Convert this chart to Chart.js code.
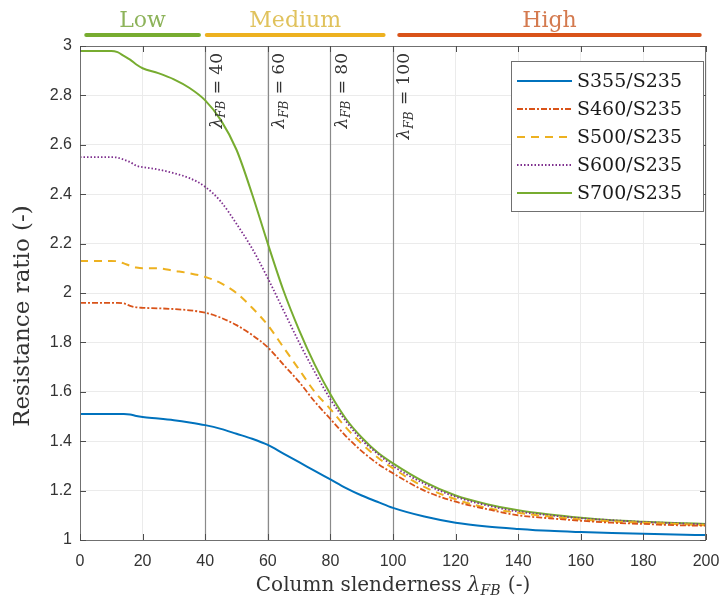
<!DOCTYPE html>
<html>
<head>
<meta charset="utf-8">
<script src="https://cdn.jsdelivr.net/npm/chart.js@4.4.1/dist/chart.umd.min.js"></script>
<style>
  html, body { margin: 0; padding: 0; background: #fff; }
  #wrap { width: 722px; height: 602px; position: relative; }
</style>
</head>
<body>
<div id="wrap"><canvas id="c" width="722" height="602"></canvas></div>
<script>
// ---- data ----
const xValues = [0,5,10,12,14,16,18,20,25,30,35,40,45,50,55,60,65,70,75,80,85,90,95,100,110,120,130,140,150,160,170,180,190,200];
const s355 = [1.51,1.51,1.51,1.51,1.51,1.508,1.502,1.498,1.492,1.485,1.476,1.465,1.45,1.43,1.41,1.385,1.35,1.315,1.28,1.245,1.21,1.18,1.155,1.13,1.095,1.07,1.055,1.045,1.037,1.032,1.028,1.025,1.022,1.02];
const s460 = [1.96,1.96,1.96,1.96,1.958,1.948,1.942,1.94,1.938,1.935,1.93,1.92,1.90,1.87,1.83,1.78,1.71,1.64,1.56,1.49,1.42,1.36,1.31,1.27,1.20,1.155,1.125,1.10,1.088,1.078,1.07,1.065,1.06,1.058];
const s500 = [2.13,2.13,2.13,2.128,2.12,2.11,2.103,2.10,2.10,2.09,2.08,2.065,2.04,2.00,1.94,1.87,1.78,1.69,1.60,1.53,1.455,1.39,1.335,1.29,1.215,1.165,1.13,1.11,1.095,1.083,1.075,1.07,1.065,1.06];
const s600 = [2.55,2.55,2.55,2.548,2.54,2.53,2.515,2.51,2.50,2.485,2.465,2.43,2.37,2.28,2.18,2.06,1.93,1.80,1.68,1.57,1.48,1.405,1.35,1.30,1.228,1.175,1.14,1.115,1.10,1.088,1.08,1.073,1.068,1.063];
const s700 = [2.98,2.98,2.98,2.975,2.96,2.945,2.925,2.91,2.89,2.865,2.83,2.78,2.70,2.58,2.40,2.20,2.01,1.85,1.71,1.59,1.49,1.415,1.355,1.31,1.235,1.18,1.145,1.12,1.103,1.09,1.08,1.074,1.069,1.065];
const seriesNames = ['S355/S235','S460/S235','S500/S235','S600/S235','S700/S235'];
const xTickLabels = ['0','20','40','60','80','100','120','140','160','180','200'];
const yTickLabels = ['1','1.2','1.4','1.6','1.8','2','2.2','2.4','2.6','2.8','3'];
const refLines = [40, 60, 80, 100];
const bandLabels = ['Low','Medium','High'];
const bandStart = [2, 40.5, 102];
const bandEnd = [38, 97, 198];

// ---- styles ----
const colors = ['#0072BD','#D95319','#EDB120','#7E2F8E','#77AC30'];
const dashes = [[], [6,2,2,2], [8,6], [1.5,2], []];
const widths = [2, 1.8, 2, 1.8, 2];
const bandColors = ['#77AC30','#EDB120','#D95319'];
const bandTextColors = ['#8db35a','#e0c25c','#d47a4f'];
const serif = '"DejaVu Serif", "Liberation Serif", serif';
const sans = '"Liberation Sans", Arial, sans-serif';
const textCol = '#333333';

const seriesValues = [s355, s460, s500, s600, s700];
const datasets = seriesValues.map((vals, i) => ({
  label: seriesNames[i],
  data: xValues.map((x, j) => ({ x: x, y: vals[j] })),
  borderColor: colors[i],
  backgroundColor: colors[i],
  borderWidth: widths[i],
  borderDash: dashes[i],
  pointRadius: 0,
  cubicInterpolationMode: 'monotone',
  fill: false
}));

function lambdaWidth(ctx, size, suffix) {
  ctx.font = 'italic ' + size + 'px ' + serif;
  const wl = ctx.measureText('λ').width;
  ctx.font = 'italic ' + Math.round(size * 0.7) + 'px ' + serif;
  const ws = ctx.measureText('FB').width;
  ctx.font = size + 'px ' + serif;
  const wt = ctx.measureText(suffix).width;
  return { wl, ws, wt, total: wl + ws + wt + 1 };
}
function drawLambda(ctx, x, y, size, suffix, align) {
  const m = lambdaWidth(ctx, size, suffix);
  let sx = align === 'center' ? x - m.total / 2 : (align === 'right' ? x - m.total : x);
  ctx.textAlign = 'left';
  ctx.font = 'italic ' + size + 'px ' + serif;
  ctx.fillText('λ', sx, y);
  sx += m.wl;
  ctx.font = 'italic ' + Math.round(size * 0.7) + 'px ' + serif;
  ctx.fillText('FB', sx, y + size * 0.28);
  sx += m.ws + 1;
  ctx.font = size + 'px ' + serif;
  ctx.fillText(suffix, sx, y);
  return m.total;
}

const overlay = {
  id: 'overlay',
  beforeDatasetsDraw(chart) {
    const { ctx, chartArea: a, scales: { x } } = chart;
    ctx.save();
    ctx.strokeStyle = '#8a8a8a';
    ctx.lineWidth = 1.2;
    refLines.forEach(v => {
      const px = Math.round(x.getPixelForValue(v)) + 0.5;
      ctx.beginPath();
      ctx.moveTo(px, a.top);
      ctx.lineTo(px, a.bottom);
      ctx.stroke();
    });
    ctx.restore();
  },
  afterDraw(chart) {
    const { ctx, chartArea: a, scales: { x, y } } = chart;
    ctx.save();
    // box
    ctx.strokeStyle = '#707070';
    ctx.lineWidth = 1;
    ctx.strokeRect(a.left + 0.5, a.top + 0.5, a.right - a.left - 1, a.bottom - a.top);
    // inner ticks
    ctx.strokeStyle = '#4d4d4d';
    ctx.beginPath();
    x.ticks.forEach(t => {
      const px = Math.round(x.getPixelForValue(t.value)) + 0.5;
      ctx.moveTo(px, a.bottom); ctx.lineTo(px, a.bottom - 6);
      ctx.moveTo(px, a.top); ctx.lineTo(px, a.top + 6);
    });
    y.ticks.forEach(t => {
      const py = Math.round(y.getPixelForValue(t.value)) + 0.5;
      ctx.moveTo(a.left, py); ctx.lineTo(a.left + 6, py);
      ctx.moveTo(a.right, py); ctx.lineTo(a.right - 6, py);
    });
    ctx.stroke();

    // reference line labels (rotated)
    ctx.fillStyle = textCol;
    ctx.textBaseline = 'middle';
    refLines.forEach(v => {
      const px = x.getPixelForValue(v);
      ctx.save();
      ctx.translate(px + 14, a.top + 7);
      ctx.rotate(-Math.PI / 2);
      drawLambda(ctx, 0, -2, 17, ' = ' + v, 'right');
      ctx.restore();
    });

    // bands above plot
    bandLabels.forEach((lab, i) => {
      const x0 = x.getPixelForValue(bandStart[i]);
      const x1 = x.getPixelForValue(bandEnd[i]);
      ctx.strokeStyle = bandColors[i];
      ctx.lineWidth = 4;
      ctx.lineCap = 'round';
      ctx.beginPath();
      ctx.moveTo(x0, 35); ctx.lineTo(x1, 35);
      ctx.stroke();
      ctx.fillStyle = bandTextColors[i];
      ctx.font = '22px ' + serif;
      ctx.textAlign = 'center';
      ctx.textBaseline = 'alphabetic';
      ctx.fillText(lab, (x0 + x1) / 2, 27);
    });

    // legend
    const lx = 511, ly = 61, lw = 192, lh = 150;
    ctx.fillStyle = '#ffffff';
    ctx.fillRect(lx, ly, lw, lh);
    ctx.strokeStyle = '#707070';
    ctx.lineWidth = 1;
    ctx.lineCap = 'butt';
    ctx.strokeRect(lx + 0.5, ly + 0.5, lw, lh);
    chart.data.datasets.forEach((ds, i) => {
      const ry = 81 + i * 28;
      ctx.strokeStyle = ds.borderColor;
      ctx.lineWidth = ds.borderWidth;
      ctx.setLineDash(ds.borderDash);
      ctx.beginPath();
      ctx.moveTo(517, ry); ctx.lineTo(572, ry);
      ctx.stroke();
      ctx.setLineDash([]);
      ctx.fillStyle = '#1a1a1a';
      ctx.font = '19px ' + serif;
      ctx.textAlign = 'left';
      ctx.textBaseline = 'middle';
      ctx.fillText(ds.label, 577, ry + 1);
    });

    // x axis title
    ctx.fillStyle = textCol;
    ctx.textBaseline = 'middle';
    const tsz = 20;
    ctx.font = tsz + 'px ' + serif;
    const pre = 'Column slenderness ';
    const wPre = ctx.measureText(pre).width;
    const m = lambdaWidth(ctx, tsz, ' (-)');
    const tot = wPre + m.total;
    const cx = (a.left + a.right) / 2;
    const sx = cx - tot / 2;
    ctx.font = tsz + 'px ' + serif;
    ctx.textAlign = 'left';
    ctx.fillText(pre, sx, 586);
    drawLambda(ctx, sx + wPre, 586, tsz, ' (-)', 'left');

    // y axis title
    ctx.save();
    ctx.translate(23, 316);
    ctx.rotate(-Math.PI / 2);
    ctx.font = '23px ' + serif;
    ctx.textAlign = 'center';
    ctx.fillText('Resistance ratio (-)', 0, 0);
    ctx.restore();

    ctx.restore();
  }
};

new Chart(document.getElementById('c'), {
  type: 'line',
  data: { datasets: datasets },
  options: {
    responsive: false,
    animation: false,
    layout: { padding: { top: 46, right: 0, left: 0, bottom: 0 } },
    plugins: { legend: { display: false }, tooltip: { enabled: false } },
    scales: {
      x: {
        type: 'linear', min: 0, max: 200,
        afterFit(s) { s.height = 62; s.paddingRight = 16; s.paddingLeft = 0; },
        ticks: { stepSize: 20, padding: 12, color: textCol, font: { family: sans, size: 16 },
                 maxRotation: 0, callback: (v, i) => xTickLabels[i] },
        grid: { color: '#ebebeb', drawTicks: false },
        border: { display: false }
      },
      y: {
        type: 'linear', min: 1, max: 3,
        afterFit(s) { s.width = 80; s.paddingTop = 0; s.paddingBottom = 0; },
        ticks: { stepSize: 0.2, padding: 8, color: textCol, font: { family: sans, size: 16 },
                 callback: (v, i) => yTickLabels[i] },
        grid: { color: '#ebebeb', drawTicks: false },
        border: { display: false }
      }
    }
  },
  plugins: [overlay]
});
</script>
</body>
</html>
